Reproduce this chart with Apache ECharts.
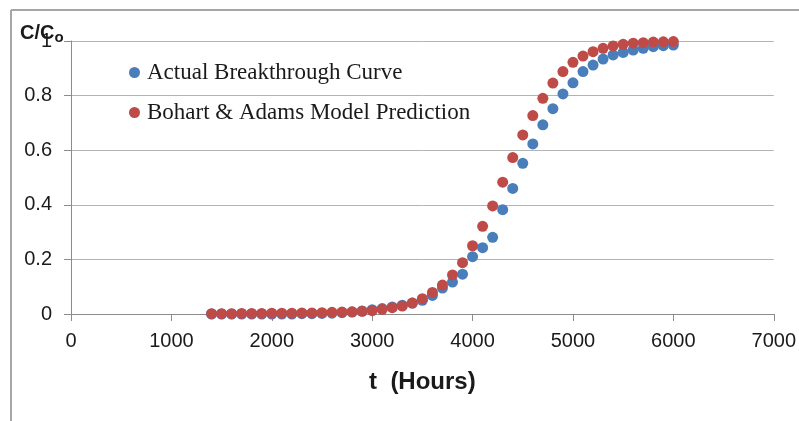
<!DOCTYPE html>
<html>
<head>
<meta charset="utf-8">
<script src="https://cdn.jsdelivr.net/npm/echarts@6/dist/echarts.min.js"></script>
<style>
  html, body { margin: 0; padding: 0; background: #fff; }
  #chart { width: 799px; height: 421px; }
</style>
</head>
<body>
<div id="chart"></div>
<script>
// Sampling times (hours)
var hours = [1400,1500,1600,1700,1800,1900,2000,2100,2200,2300,2400,2500,2600,2700,2800,2900,
  3000,3100,3200,3300,3400,3500,3600,3700,3800,3900,4000,4100,4200,4300,4400,4500,4600,4700,
  4800,4900,5000,5100,5200,5300,5400,5500,5600,5700,5800,5900,6000];

// Measured C/Co
var actualCurve = [0,0,0,0,0,0,0,0,0,0.001,0.001,0.002,0.003,0.005,0.007,0.011,
  0.016,0.02,0.026,0.032,0.04,0.05,0.068,0.095,0.117,0.146,0.21,0.243,0.281,0.382,0.46,0.552,0.623,0.693,
  0.752,0.806,0.847,0.888,0.912,0.934,0.949,0.958,0.967,0.973,0.979,0.983,0.985];

// Bohart & Adams model C/Co
var modelCurve = [0.001,0.001,0.001,0.002,0.002,0.002,0.003,0.003,0.003,0.004,0.004,0.005,0.006,0.007,0.008,0.01,
  0.012,0.017,0.023,0.029,0.04,0.056,0.079,0.106,0.143,0.188,0.25,0.321,0.396,0.483,0.573,0.656,0.727,0.79,
  0.846,0.888,0.922,0.945,0.961,0.973,0.982,0.988,0.992,0.994,0.996,0.997,0.998];

var seriesNames = ['Actual Breakthrough Curve', 'Bohart & Adams Model Prediction'];
var xTickValues = [0, 1000, 2000, 3000, 4000, 5000, 6000, 7000];
var yTickValues = [0, 0.2, 0.4, 0.6, 0.8, 1];

function pairs(xs, ys) {
  return xs.map(function (x, i) { return [x, ys[i]]; });
}

var axisFont = 'Liberation Sans';
var chart = echarts.init(document.getElementById('chart'), null, { renderer: 'canvas' });

chart.setOption({
  animation: false,
  backgroundColor: '#ffffff',
  grid: { left: 71, right: 25, top: 41, bottom: 107, containLabel: false },
  legend: {
    orient: 'vertical',
    left: 124,
    top: 56,
    itemGap: 17,
    itemWidth: 11,
    itemHeight: 11,
    icon: 'circle',
    data: seriesNames,
    textStyle: { fontFamily: 'Liberation Serif', fontSize: 23, color: '#1a1a1a', padding: [0, 0, 0, 2] }
  },
  xAxis: {
    type: 'value',
    min: xTickValues[0],
    max: xTickValues[xTickValues.length - 1],
    interval: 1000,
    name: 't  (Hours)',
    nameLocation: 'middle',
    nameGap: 56,
    nameTextStyle: { fontFamily: axisFont, fontWeight: 'bold', fontSize: 24, color: '#1a1a1a' },
    axisLine: { lineStyle: { color: '#8c8c8c', width: 1 } },
    axisTick: { show: true, inside: false, length: 7, lineStyle: { color: '#8c8c8c' } },
    axisLabel: {
      fontFamily: axisFont, fontSize: 20, color: '#1a1a1a', margin: 17,
      formatter: function (v) { return String(v); }
    },
    splitLine: { show: false }
  },
  yAxis: {
    type: 'value',
    min: yTickValues[0],
    max: yTickValues[yTickValues.length - 1],
    interval: 0.2,
    axisLine: { show: true, lineStyle: { color: '#8c8c8c', width: 1 } },
    axisTick: { show: true, inside: false, length: 7, lineStyle: { color: '#8c8c8c' } },
    axisLabel: {
      fontFamily: axisFont, fontSize: 20, color: '#1a1a1a', margin: 19,
      formatter: function (v) { return String(Math.round(v * 10) / 10); }
    },
    splitLine: { show: true, lineStyle: { color: '#b3b3b3', width: 1 } }
  },
  series: [
    {
      name: seriesNames[0],
      type: 'scatter',
      symbol: 'circle',
      symbolSize: 11,
      itemStyle: { color: '#4a7ebb', opacity: 1 },
      data: pairs(hours, actualCurve),
      z: 2
    },
    {
      name: seriesNames[1],
      type: 'scatter',
      symbol: 'circle',
      symbolSize: 11,
      itemStyle: { color: '#be4b48', opacity: 1 },
      data: pairs(hours, modelCurve),
      z: 3
    }
  ],
  graphic: [
    // outer frame (left and top edges)
    { type: 'line', shape: { x1: 11, y1: 10, x2: 799, y2: 10 }, style: { stroke: '#a6a6a6', lineWidth: 2 }, z: 1 },
    { type: 'line', shape: { x1: 11, y1: 10, x2: 11, y2: 421 }, style: { stroke: '#a6a6a6', lineWidth: 2 }, z: 1 },
    // vertical axis title C/Co
    {
      type: 'text', left: 20, top: 23, z: 10,
      style: {
        text: '{m|C/C}{s|o}',
        rich: {
          m: { fontFamily: axisFont, fontWeight: 'bold', fontSize: 20, fill: '#1a1a1a' },
          s: { fontFamily: axisFont, fontWeight: 'bold', fontSize: 15, fill: '#1a1a1a', verticalAlign: 'bottom', padding: [9, 0, 0, 0] }
        }
      }
    }
  ]
});
</script>
</body>
</html>
